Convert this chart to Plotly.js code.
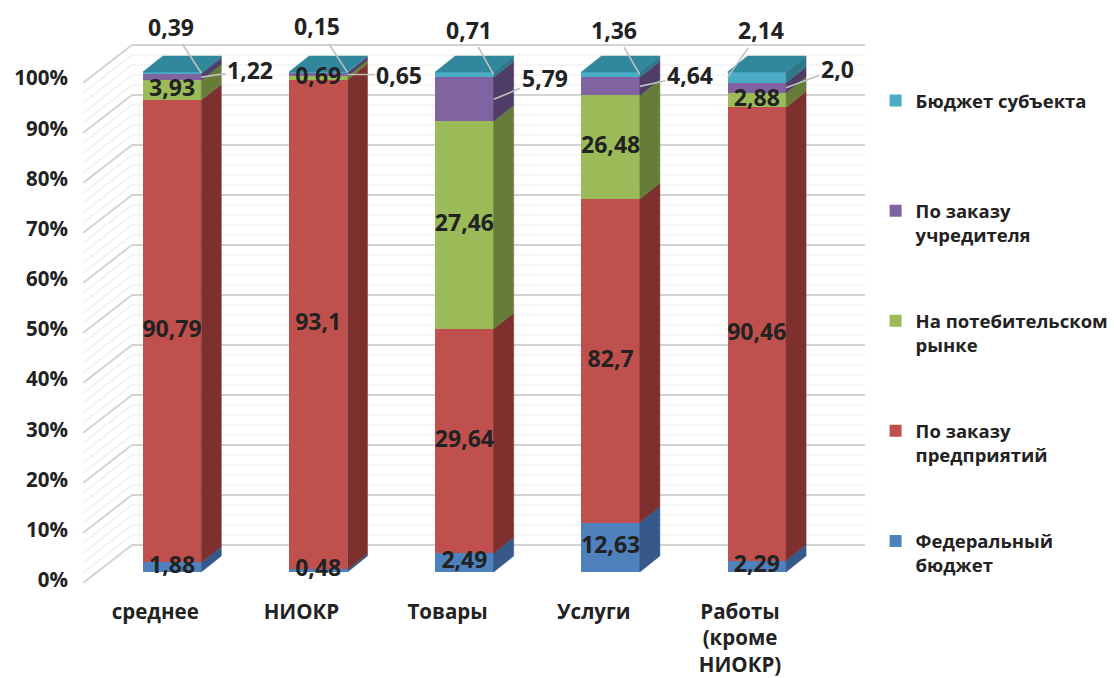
<!DOCTYPE html>
<html><head><meta charset="utf-8">
<script src="https://cdn.plot.ly/plotly-3.0.1.min.js"></script>
<style>html,body{margin:0;padding:0;background:#fff}</style>
</head><body><div id="chart" style="width:1114px;height:678px"></div>
<script>
// ---------- data (as printed on the chart) ----------
const categories = ['среднее', 'НИОКР', 'Товары', 'Услуги', 'Работы<br>(кроме<br>НИОКР)'];
const seriesNames = ['Федеральный<br>бюджет', 'По заказу<br>предприятий', 'На потебительском<br>рынке', 'По заказу<br>учредителя', 'Бюджет субъекта<br> '];
const federalBudget   = ['1,88', '0,48', '2,49', '12,63', '2,29'];
const enterpriseOrder = ['90,79', '93,1', '29,64', '82,7', '90,46'];
const consumerMarket  = ['3,93', '0,69', '27,46', '26,48', '2,88'];
const founderOrder    = ['1,22', '0,65', '5,79', '4,64', '2,0'];
const regionalBudget  = ['0,39', '0,15', '0,71', '1,36', '2,14'];
const yTicks = [0, 10, 20, 30, 40, 50, 60, 70, 80, 90, 100];

// ---------- style ----------
const F = 'Open Sans';
const TXT = '#222222';
const frontColors = ['#4F81BD', '#C0504D', '#9BBB59', '#8064A2', '#4BACC6'];
const sideColors  = ['#36588A', '#7D302E', '#667D3A', '#4F3D68', '#2F7889'];
const topColor = '#31889C';
const W = 0.4, DX = 0.137, DY = 3.2;          // bar width, 3D depth offsets
const WALL = {xl: -0.609, xb: -0.274, xr: 4.74, fy: -2.2, by: 5.4};

const raw = [federalBudget, enterpriseOrder, consumerMarket, founderOrder, regionalBudget];
const num = s => parseFloat(s.replace(',', '.'));
const vals = raw.map(a => a.map(num));
const xs = categories.map((c, i) => i);

// normalised stacks (same as barnorm percent)
const totals = xs.map(i => vals.reduce((s, v) => s + v[i], 0));
const bottoms = [], tops = [];
vals.forEach((v, s) => {
  bottoms.push(xs.map(i => (s === 0 ? 0 : tops[s - 1][i])));
  tops.push(xs.map(i => bottoms[s][i] + v[i] / totals[i] * 100));
});

const traces = [];
// front faces
vals.forEach((v, s) => {
  traces.push({
    type: 'bar', x: xs, y: v, name: seriesNames[s], width: W,
    marker: {color: frontColors[s], line: {width: 0}},
    legendgroup: 'g' + s, legendrank: vals.length - s, hoverinfo: 'skip'
  });
});
// side faces
vals.forEach((v, s) => {
  xs.forEach(i => {
    const xr = i + W / 2, b = bottoms[s][i], t = tops[s][i];
    traces.push({
      type: 'scatter', mode: 'lines', fill: 'toself', fillcolor: sideColors[s],
      x: [xr, xr + DX, xr + DX, xr, xr], y: [b, b + DY, t + DY, t, b],
      line: {color: sideColors[s], width: 0.5}, showlegend: false, hoverinfo: 'skip'
    });
  });
});
// top faces
xs.forEach(i => {
  const xl = i - W / 2, xr = i + W / 2, t = 100;
  traces.push({
    type: 'scatter', mode: 'lines', fill: 'toself', fillcolor: topColor,
    x: [xl, xr, xr + DX, xl + DX, xl], y: [t, t, t + DY, t + DY, t],
    line: {color: topColor, width: 0.5}, showlegend: false, hoverinfo: 'skip'
  });
});
// inside labels (first three series)
const inX = [], inY = [], inT = [];
[0, 1, 2].forEach(s => xs.forEach(i => {
  inX.push(i); inY.push((bottoms[s][i] + tops[s][i]) / 2); inT.push(raw[s][i]);
}));
traces.push({
  type: 'scatter', mode: 'text', x: inX, y: inY, text: inT, textposition: 'middle center',
  textfont: {family: F, size: 23, weight: 'bold', color: TXT}, cliponaxis: false,
  showlegend: false, hoverinfo: 'skip'
});
// dummy trace to carry the percent axis
traces.push({type: 'scatter', x: [], y: [], yaxis: 'y2', showlegend: false, hoverinfo: 'skip'});

// outside labels with leader lines
const annotations = [];
const regionalPlace = {edge: [1, 1, 1, 1, -1], ax: [-30, -30, -25, -26, 33], ay: [-46, -46, -45, -45, -47]};
const founderPlace  = {edge: [1, 1, 1, 1, 1],  ax: [49, 52, 51, 50, 51],     ay: [-7, 0, -21, -11, -19]};
[[4, regionalPlace], [3, founderPlace]].forEach(([s, p]) => {
  xs.forEach(i => {
    annotations.push({
      x: i + p.edge[i] * W / 2, y: (bottoms[s][i] + tops[s][i]) / 2, xref: 'x', yref: 'y',
      text: raw[s][i], showarrow: true, arrowhead: 0, arrowwidth: 1.6, arrowcolor: '#BFBFBF',
      ax: p.ax[i], ay: p.ay[i], standoff: 0,
      font: {family: F, size: 23, weight: 'bold', color: TXT}
    });
  });
});

// back / side wall gridlines
const shapes = [];
for (let v = 0; v <= 100; v += 2) {
  const major = v % 10 === 0;
  const line = {color: major ? '#D3D3D3' : '#EDEDED', width: major ? 2 : 1.2};
  shapes.push({type: 'line', layer: 'below', xref: 'x', yref: 'y',
    x0: WALL.xl, y0: v + WALL.fy, x1: WALL.xb, y1: v + WALL.by, line});
  shapes.push({type: 'line', layer: 'below', xref: 'x', yref: 'y',
    x0: WALL.xb, y0: v + WALL.by, x1: WALL.xr, y1: v + WALL.by, line});
}

const layout = {
  width: 1114, height: 678,
  margin: {l: 83, r: 249, t: 40, b: 93},
  paper_bgcolor: '#ffffff', plot_bgcolor: 'rgba(0,0,0,0)',
  barmode: 'stack', barnorm: 'percent',
  showlegend: true,
  legend: {
    xref: 'container', yref: 'container', x: 0.786, y: 0.879, xanchor: 'left', yanchor: 'top',
    traceorder: 'grouped', tracegroupgap: 59, valign: 'top', maxheight: 620,
    font: {family: F, size: 18.5, weight: 'bold', color: TXT}, bgcolor: 'rgba(0,0,0,0)'
  },
  xaxis: {
    range: [-0.609, 4.74], tickvals: xs.map(i => i - 0.115), ticktext: categories,
    showgrid: false, zeroline: false, showline: false, ticks: '', ticklabelstandoff: 12,
    tickfont: {family: F, size: 20.5, weight: 'bold', color: TXT}
  },
  yaxis: {range: [-2.6, 106.4], showgrid: false, zeroline: false, showline: false, showticklabels: false, ticks: ''},
  yaxis2: {
    overlaying: 'y', side: 'left', range: [-1.0, 107.6], tickvals: yTicks,
    ticktext: yTicks.map(t => t + '%'), showgrid: false, zeroline: false, showline: false,
    ticks: '', ticklabelstandoff: 14,
    tickfont: {family: F, size: 20.5, weight: 'bold', color: TXT}
  },
  shapes, annotations
};

Plotly.newPlot('chart', traces, layout, {staticPlot: true, displayModeBar: false});
</script></body></html>
